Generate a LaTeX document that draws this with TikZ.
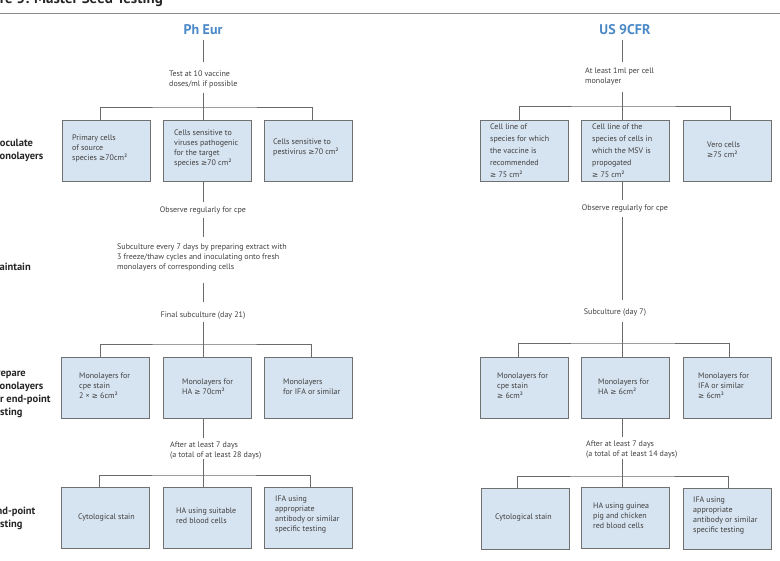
\documentclass[tikz,border=0pt]{standalone}
\usepackage{fontspec}
\setmainfont{PT Sans}
\newfontfamily\symfont[Scale=0.92]{DejaVu Sans}
\newcommand{\gte}{{\symfont ≥}}
\usetikzlibrary{calc}
\definecolor{boxfill}{HTML}{D6E3F0}
\definecolor{boxline}{HTML}{707070}
\definecolor{conncol}{HTML}{6A6A6A}
\definecolor{txtcol}{HTML}{404040}
\definecolor{headblue}{HTML}{4A88C7}
\definecolor{rulecol}{HTML}{8A8A8A}
\tikzset{
  cellbox/.style={draw=boxline, fill=boxfill, line width=0.9pt, minimum width=88pt, minimum height=61pt, inner sep=0pt},
  btext/.style={anchor=west, align=left, inner sep=0pt, text=txtcol, font=\fontsize{8}{10}\selectfont},
  btextw/.style={btext, font=\fontsize{8}{12}\selectfont},
  ctext/.style={anchor=center, align=center, inner sep=0pt, text=txtcol, font=\fontsize{8}{10}\selectfont},
  conn/.style={draw=conncol, line width=0.9pt},
  headtxt/.style={anchor=center, inner sep=0pt, text=headblue, font=\fontsize{14}{16}\bfseries\selectfont},
  sidelabel/.style={anchor=west, align=left, inner sep=0pt, text=black!85, font=\fontsize{10.5}{13}\bfseries\selectfont},
}
\begin{document}
\begin{tikzpicture}[x=1pt,y=-1pt]
\useasboundingbox (0,0) rectangle (780,561);
\clip (0,0) rectangle (780,561);
\fill[white] (0,0) rectangle (780,561);

% title and rule
\node[anchor=base east, inner sep=0pt, text=black!85, font=\fontsize{15}{17}\bfseries\selectfont] (title) at (163,3.5) {Figure 5: Master Seed Testing};
\coordinate (ruleL) at (0,13.5);
\coordinate (ruleR) at (780,13.5);
\draw[draw=rulecol, line width=1.2pt] (ruleL) -- (ruleR);

% side labels
\node[sidelabel] (lab1) at (-9,150.5) {Inoculate\\monolayers};
\node[sidelabel] (lab2) at (-9,267) {Maintain};
\node[sidelabel] (lab3) at (-9,393.5) {Prepare\\monolayers\\for end-point\\testing};
\node[sidelabel] (lab4) at (-9,518.5) {End-point\\testing};

% ================= Ph Eur =================
\node[headtxt] (ph) at (203,30) {Ph Eur};
\node[btext] (ptest) at (169,79) {Test at 10 vaccine\\doses/ml if possible};
\coordinate (pj1) at (203,107);
\coordinate (pj2) at (203,344);
\coordinate (pj3) at (203,475);

\node[cellbox] (p11) at (106,150.5) {};
\node[cellbox] (p12) at (207,150.5) {};
\node[cellbox] (p13) at (308,150.5) {};
\node[btext] (t11) at (72,148) {Primary cells\\of source\\species \gte70cm²};
\node[btext] (t12) at (174,148) {Cells sensitive to\\viruses pathogenic\\for the target\\species \gte70 cm²};
\node[btext] (t13) at (273,147) {Cells sensitive to\\pestivirus \gte70 cm²};

\node[ctext] (pobs) at (203,211) {Observe regularly for cpe};
\node[btext] (psub) at (117,258) {Subculture every 7 days by preparing extract with\\3 freeze/thaw cycles and inoculating onto fresh\\monolayers of corresponding cells};
\node[ctext] (pfin) at (203,316) {Final subculture (day 21)};

\node[cellbox] (p31) at (105,388) {};
\node[cellbox] (p32) at (207,388) {};
\node[cellbox] (p33) at (308,388) {};
\node[btext] (t31) at (79,386) {Monolayers for\\cpe stain\\2 × \gte{} 6cm²};
\node[btext] (t32) at (182,387) {Monolayers for\\HA \gte{} 70cm²};
\node[btext] (t33) at (283,387) {Monolayers\\for IFA or similar};

\node[btext] (paft) at (170,450.5) {After at least 7 days\\(a total of at least 28 days)};

\node[cellbox] (p41) at (105,518) {};
\node[cellbox] (p42) at (207,518) {};
\node[cellbox] (p43) at (308,518) {};
\node[btext] (t41) at (78,517) {Cytological stain};
\node[btext] (t42) at (176,516) {HA using suitable\\red blood cells};
\node[btext] (t43) at (275,515) {IFA using\\appropriate\\antibody or similar\\specific testing};

% connectors Ph Eur
\draw[conn, shorten <=5pt, shorten >=8pt] (ph.south) -- (ph.south |- ptest.north);
\draw[conn, shorten <=5pt] (pj1 |- ptest.south) -- (pj1);
\draw[conn] ([xshift=-6pt]p11.north) |- (pj1) -| ([xshift=4pt]p13.north);
\draw[conn] (pj1) -- (pj1 |- p12.north);
\draw[conn, shorten >=5pt] (pj1 |- p12.south) -- (pj1 |- pobs.north);
\draw[conn, shorten <=3pt, shorten >=7pt] (pj1 |- pobs.south) -- (pj1 |- psub.north);
\draw[conn, shorten <=11pt, shorten >=10pt] (pj1 |- psub.south) -- (pj1 |- pfin.north);
\draw[conn, shorten <=2.5pt] (pj2 |- pfin.south) -- (pj2);
\draw[conn] ([xshift=-5pt]p31.north) |- (pj2) -| ([xshift=3pt]p33.north);
\draw[conn] (pj2) -- (pj2 |- p32.north);
\draw[conn, shorten >=4pt] (pj2 |- p32.south) -- (pj2 |- paft.north);
\draw[conn] (pj3 |- paft.south) -- (pj3);
\draw[conn] ([xshift=-6pt]p41.north) |- (pj3) -| ([xshift=2pt]p43.north);
\draw[conn] (pj3) -- (pj3 |- p42.north);

% ================= US 9CFR =================
\node[headtxt] (uh) at (625,30) {US 9CFR};
\node[btext] (utest) at (585,76) {At least 1ml per cell\\monolayer};
\coordinate (uj1) at (622,106);
\coordinate (uj2) at (622,343);
\coordinate (uj3) at (622,476);

\node[cellbox] (u11) at (524.5,150.5) {};
\node[cellbox] (u12) at (625,150.5) {};
\node[cellbox] (u13) at (727,150.5) {};
\node[btextw] (s11) at (490,151) {Cell line of\\species for which\\the vaccine is\\recommended\\\gte{} 75 cm²};
\node[btextw] (s12) at (592,151) {Cell line of the\\species of cells in\\which the MSV is\\propogated\\\gte{} 75 cm²};
\node[btext] (s13) at (707,150) {Vero cells\\\gte75 cm²};

\node[ctext] (uobs) at (625,209) {Observe regularly for cpe};
\node[ctext] (usub) at (615,313) {Subculture (day 7)};

\node[cellbox] (u31) at (524.5,388) {};
\node[cellbox] (u32) at (625,388) {};
\node[cellbox] (u33) at (727,388) {};
\node[btext] (s31) at (497,386) {Monolayers for\\cpe stain\\\gte{} 6cm²};
\node[btext] (s32) at (598,387) {Monolayers for\\HA \gte{} 6cm²};
\node[btext] (s33) at (698,386) {Monolayers for\\IFA or similar\\\gte{} 6cm²};

\node[btext] (uaft) at (586,450) {After at least 7 days\\(a total of at least 14 days)};

\node[cellbox] (u41) at (525,519) {};
\node[cellbox] (u42) at (625,517.5) {};
\node[cellbox] (u43) at (727,519) {};
\node[btext] (s41) at (495,518) {Cytological stain};
\node[btext] (s42) at (593,516) {HA using guinea\\pig and chicken\\red blood cells};
\node[btext] (s43) at (693,516) {IFA using\\appropriate\\antibody or similar\\specific testing};

% connectors US 9CFR
\draw[conn, shorten <=5pt, shorten >=5pt] (uj1 |- uh.south) -- (uj1 |- utest.north);
\draw[conn, shorten <=7pt] (uj1 |- utest.south) -- (uj1);
\draw[conn] ([xshift=-5.5pt]u11.north) |- (uj1) -| ([xshift=3pt]u13.north);
\draw[conn] (uj1) -- (uj1 |- u12.north);
\draw[conn, shorten >=5pt] (uj1 |- u12.south) -- (uj1 |- uobs.north);
\draw[conn, shorten <=4.5pt, shorten >=9pt] (uj1 |- uobs.south) -- (uj1 |- usub.north);
\draw[conn, shorten <=5pt] (uj2 |- usub.south) -- (uj2);
\draw[conn] ([xshift=-6.5pt]u31.north) |- (uj2) -| ([xshift=2pt]u33.north);
\draw[conn] (uj2) -- (uj2 |- u32.north);
\draw[conn, shorten >=4pt] (uj2 |- u32.south) -- (uj2 |- uaft.north);
\draw[conn] (uj3 |- uaft.south) -- (uj3);
\draw[conn] ([xshift=-8pt]u41.north) |- (uj3) -| ([xshift=1pt]u43.north);
\draw[conn] (uj3) -- (uj3 |- u42.north);
\end{tikzpicture}
\end{document}
